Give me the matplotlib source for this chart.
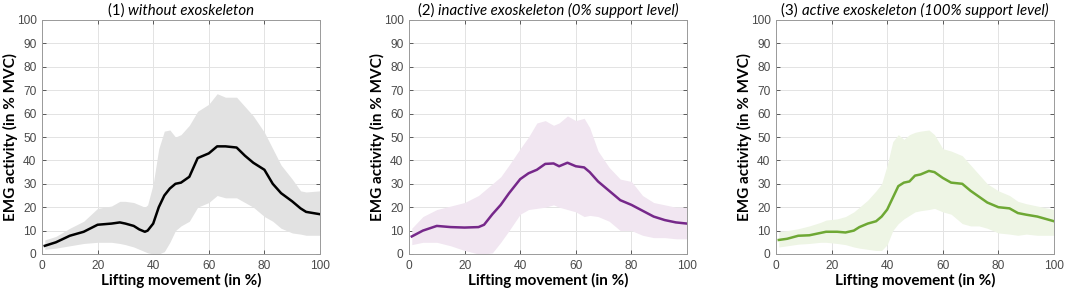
import numpy as np
import matplotlib.pyplot as plt

# (1) without exoskeleton
x1 = [1, 5, 10, 15, 20, 25, 28, 30, 33, 35, 37, 38, 40, 42, 44, 46, 48, 50, 53, 56, 60, 63, 66, 70, 73, 76, 80, 83, 86, 90, 93, 95, 100]
m1 = [3.5, 5, 7.8, 9.5, 12.5, 13, 13.5, 13, 12, 10.5, 9.5, 10, 13, 20, 25, 28, 30, 30.5, 33, 41, 43, 46, 46, 45.5, 42, 39, 36, 30, 26, 22.5, 19.5, 18, 17]
u1 = [6, 7.5, 11, 14, 19.5, 20.5, 22.5, 22.5, 22, 21, 20, 21, 30, 45, 52.5, 53, 50, 51, 55, 61, 64, 68.5, 67, 67, 63, 59, 52, 45, 38, 32, 27, 26.5, 27]
l1 = [2, 2.5, 3.5, 4.5, 5, 5, 4.5, 4, 3, 2, 1, 0.5, 0, 0, 1, 5, 10, 12, 14, 20, 22, 25, 24, 24, 22, 20, 16, 14, 11, 9, 8.5, 8, 8]

# (2) inactive exoskeleton
x2 = [1, 5, 10, 15, 20, 25, 27, 30, 33, 36, 40, 43, 46, 49, 52, 54, 57, 60, 63, 65, 68, 72, 76, 80, 84, 88, 92, 96, 100]
m2 = [7.5, 10, 12, 11.5, 11.3, 11.5, 12.5, 17, 21, 26, 32, 34.5, 36, 38.5, 38.7, 37.5, 39, 37.5, 37, 35, 31, 27, 23, 21, 18.5, 16, 14.5, 13.5, 13]
u2 = [11, 16, 19, 20.5, 22, 25, 27, 30, 33, 38, 45, 50, 56, 57, 55, 56, 59, 57, 58, 54, 44, 37, 32, 31, 25, 22, 21, 20, 20]
l2 = [4, 5, 5, 3.5, 1.5, 0, 0, 0.5, 5, 10, 17, 19, 19.5, 20, 21, 20, 19, 18, 16, 16.5, 16, 14, 10, 10, 8, 7, 7, 6.5, 6.5]

# (3) active exoskeleton
x3 = [1, 4, 8, 12, 16, 18, 22, 25, 28, 30, 33, 36, 38, 40, 42, 44, 46, 48, 50, 52, 55, 57, 60, 63, 67, 70, 73, 76, 80, 84, 87, 90, 94, 100]
m3 = [6, 6.5, 7.8, 8, 9, 9.5, 9.5, 9.2, 10, 11.5, 13, 14, 16, 19, 24, 29, 30.5, 31, 33.5, 34, 35.5, 35, 32.5, 30.5, 30, 27, 24.5, 22, 20, 19.5, 17.5, 16.8, 16, 14]
u3 = [9.5, 10, 10.8, 12, 13.5, 14.5, 15, 16, 18, 20, 23, 27, 30, 38, 48, 51, 49, 51, 52, 52.5, 53, 51, 45, 44, 42, 38, 34, 30, 27, 25, 22.5, 21.5, 20.5, 19]
l3 = [3, 3.5, 4.2, 4.5, 5, 5, 4.5, 4, 3, 2.5, 2, 1.5, 1.5, 4, 10, 13, 15, 16.5, 18, 18.5, 19, 19.5, 18, 17, 13, 12, 12, 11, 9, 8.5, 8, 8.5, 8, 8]

titles = [("(1) ", "without exoskeleton"),
          ("(2) ", "inactive exoskeleton (0% support level)"),
          ("(3) ", "active exoskeleton (100% support level)")]
line_colors = ["black", "#76288a", "#6ea834"]
fill_colors = ["#e2e2e2", "#f1e6f1", "#eef5e5"]

fig = plt.figure(figsize=(10.65, 2.93), dpi=100)
lefts = [42, 409, 776]
axes = []
for i, (xs, ms, us, ls) in enumerate([(x1, m1, u1, l1), (x2, m2, u2, l2), (x3, m3, u3, l3)]):
    ax = fig.add_axes([lefts[i] / 1065, 39 / 293, 278 / 1065, 234 / 293])
    ax.fill_between(xs, ls, us, color=fill_colors[i], lw=0, zorder=1)
    ax.plot(xs, ms, color=line_colors[i], lw=1.8, zorder=3)
    ax.set_xlim(0, 100)
    ax.set_ylim(0, 100)
    ax.set_xticks(np.arange(0, 101, 20))
    ax.set_yticks(np.arange(0, 101, 10))
    ax.grid(True, color="#e3e3e3", lw=0.7, zorder=0)
    ax.set_axisbelow(True)
    ax.tick_params(direction="in", length=3, width=0.6, color="#444444",
                   labelcolor="#4a4a4a", labelsize=8.6, top=True, right=True, pad=4)
    for lab in ax.get_xticklabels() + ax.get_yticklabels():
        lab.set_family("Liberation Sans")
    for sp in ax.spines.values():
        sp.set_color("#9a9a9a")
        sp.set_linewidth(0.7)
    ax.set_xlabel("Lifting movement (in %)", fontsize=11, fontweight="bold",
                  family="Lato", labelpad=1)
    ax.set_ylabel("EMG activity (in % MVC)", fontsize=11, fontweight="bold",
                  family="Lato", labelpad=-1)
    axes.append(ax)

# titles: upright number, italic description, centred over each panel
fig.canvas.draw()
r = fig.canvas.get_renderer()
for i, ax in enumerate(axes):
    a, b = titles[i]
    t1 = fig.text(0, 0, a, fontsize=10.8, family="Lato", va="baseline")
    t2 = fig.text(0, 0, b, fontsize=10.8, family="Lato", style="italic", va="baseline")
    w1 = t1.get_window_extent(r).width
    w2 = t2.get_window_extent(r).width
    cx = (lefts[i] + 139)
    x0 = cx - (w1 + w2) / 2
    yb = 293 - 15
    t1.set_position((x0 / 1065, yb / 293))
    t2.set_position(((x0 + w1) / 1065, yb / 293))

fig.savefig("out.png", dpi=100)
